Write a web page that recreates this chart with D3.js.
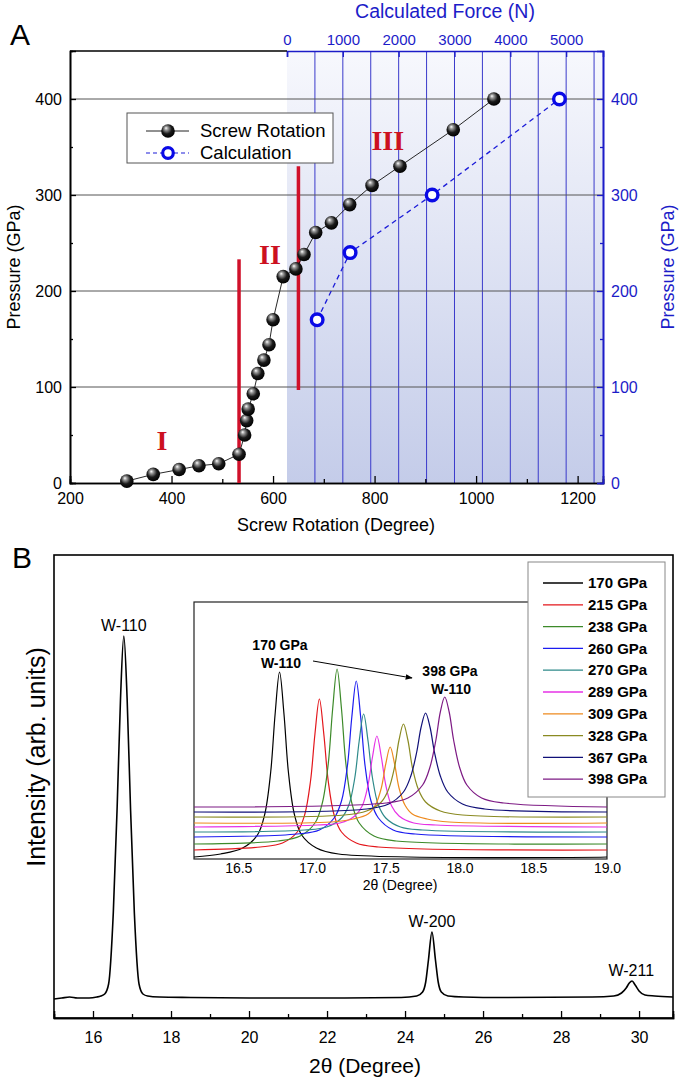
<!DOCTYPE html>
<html>
<meta charset="utf-8" />
<script src="https://d3js.org/d3.v7.min.js"></script>
<body style="margin:0;background:#fff">
<svg id="chart" width="680" height="1081"></svg>
<script>
// ---------- Panel A data ----------
var screwDeg = [312, 364, 415, 454, 493, 533, 544, 548, 551, 561, 570, 582, 592, 600, 620, 645, 661, 684, 715, 751, 795, 850, 955, 1035]
var screwGPa = [2, 9, 14, 18, 20, 30, 50, 65, 77, 93, 114, 128, 144, 170, 215, 223, 238, 261, 271, 290, 310, 330, 368, 400]
var calcForce = [540, 1130, 2600, 4880]
var calcGPa = [170, 240, 300, 400]
var regionDeg = [533, 650]
var regionFrom = [0, 97]
var regionTo = [233, 330]
var regionNames = ["I", "II", "III"]
var regionNameDeg = [381, 594, 826]
var regionNameGPa = [45, 238, 357]

// ---------- Panel B data ----------
var xrdTheta = [15.0, 15.2, 15.4, 15.6, 15.9, 16.1, 16.2, 16.3, 16.4, 16.52, 16.62, 16.705, 16.79,
  16.875, 16.96, 17.06, 17.18, 17.28, 17.4, 17.7, 18.5, 20, 22, 23.9, 24.3, 24.45, 24.53, 24.6,
  24.69, 24.78, 24.85, 24.93, 25.1, 25.5, 26.5, 28.8, 29.35, 29.55, 29.67, 29.75, 29.82, 29.9, 30.0, 30.15, 30.4, 30.87]
var xrdCounts = [19, 20, 21, 20, 20, 21, 22, 24, 34, 105, 212, 319, 382,
  319, 212, 105, 34, 24, 22, 21, 20.5, 20, 20, 20.5, 22, 26, 36, 58,
  86, 58, 36, 26, 22, 21, 20.5, 21, 22, 25, 30, 35, 37, 33, 27, 23, 22, 21]
var xrdPeakNames = ["W-110", "W-200", "W-211"]
var xrdPeakTheta = [16.79, 24.69, 29.8]
var xrdPeakTop = [382, 86, 37]

var insetPressures = ["170 GPa", "215 GPa", "238 GPa", "260 GPa", "270 GPa", "289 GPa", "309 GPa", "328 GPa", "367 GPa", "398 GPa"]
var insetColors = ["#000000", "#e3161b", "#3d8a2a", "#1c1cf0", "#2e8a8a", "#e632e6", "#ee8a1e", "#8a8a22", "#101078", "#7d1a84"]
var insetCenter = [16.78, 17.05, 17.17, 17.30, 17.35, 17.44, 17.53, 17.62, 17.77, 17.90]
// offsets from peak centre (degree) at which each pattern was read
var insetOffsets = [-0.4, -0.25, -0.15, -0.1, -0.06, -0.03, 0, 0.03, 0.06, 0.1, 0.15, 0.25, 0.4]
var insetCounts = [
  [5, 11, 24, 45, 87, 145, 187, 145, 87, 45, 24, 11, 5],
  [12, 16, 27, 44, 78, 125, 160, 125, 78, 44, 27, 16, 12],
  [18, 23, 36, 56, 95, 150, 190, 150, 95, 56, 36, 23, 18],
  [25, 29, 41, 58, 93, 142, 178, 142, 93, 58, 41, 29, 25],
  [29, 32, 41, 54, 81, 118, 145, 118, 81, 54, 41, 32, 29],
  [34, 36, 43, 53, 74, 102, 123, 102, 74, 53, 43, 36, 34],
  [37, 40, 45, 54, 71, 95, 112, 95, 71, 54, 45, 40, 37],
  [44, 48, 57, 70, 92, 119, 135, 119, 92, 70, 57, 48, 44],
  [50, 55, 67, 83, 107, 132, 146, 132, 107, 83, 67, 55, 50],
  [56, 61, 74, 92, 119, 147, 162, 147, 119, 92, 74, 61, 56]
]
var insetBase = [2, 9, 15, 22, 27, 32, 36, 42, 47, 52]

var svg = d3.select("#chart")
var defs = svg.append("defs")
var font = "Liberation Sans, Arial, sans-serif"
var intFmt = d3.format("d")

var ball = defs.append("radialGradient").attr("id", "ball")
  .attr("cx", "45%").attr("cy", "40%").attr("r", "60%").attr("fx", "35%").attr("fy", "28%")
ball.append("stop").attr("offset", "0%").attr("stop-color", "#ffffff")
ball.append("stop").attr("offset", "22%").attr("stop-color", "#9a9a9a")
ball.append("stop").attr("offset", "60%").attr("stop-color", "#1a1a1a")
ball.append("stop").attr("offset", "100%").attr("stop-color", "#000000")

var shade = defs.append("linearGradient").attr("id", "shade")
  .attr("x1", 0).attr("y1", 0).attr("x2", 0).attr("y2", 1)
shade.append("stop").attr("offset", "0%").attr("stop-color", "#f7f8fd")
shade.append("stop").attr("offset", "100%").attr("stop-color", "#c4cce9")

// ================= Panel A =================
var x = d3.scaleLinear().domain([200, 1250]).range([70, 603])
var y = d3.scaleLinear().domain([0, 450]).range([483, 51])
var xf = d3.scaleLinear().domain([0, 5660]).range([287, 603])
var blue = "#1c1cc8"

var gA = svg.append("g")
gA.append("rect").attr("x", xf(0)).attr("y", y(450))
  .attr("width", xf(5660) - xf(0)).attr("height", y(0) - y(450))
  .attr("fill", "url(#shade)")

// vertical force grid
gA.selectAll(".vg").data(d3.range(500, 5660, 500)).enter().append("line")
  .attr("x1", d => xf(d)).attr("x2", d => xf(d))
  .attr("y1", y(450)).attr("y2", y(0))
  .attr("stroke", "#3a3acb").attr("stroke-width", 1)

// horizontal grid
gA.selectAll(".hg").data([100, 200, 300, 400]).enter().append("line")
  .attr("x1", x(200)).attr("x2", x(1250))
  .attr("y1", d => y(d)).attr("y2", d => y(d))
  .attr("stroke", "#555").attr("stroke-width", 1)

// left axis
gA.append("g").attr("transform", "translate(70,0)")
  .call(d3.axisLeft(y).tickValues(d3.range(50, 450, 100)).tickSize(-3).tickFormat(""))
gA.append("g").attr("class", "lbl").attr("transform", "translate(70,0)")
  .call(d3.axisLeft(y).tickValues([0, 100, 200, 300, 400]).tickSize(-6).tickPadding(8).tickFormat(intFmt))
// bottom axis
gA.append("g").attr("transform", "translate(0,483)")
  .call(d3.axisBottom(x).tickValues(d3.range(300, 1250, 200)).tickSize(-4).tickFormat(""))
gA.append("g").attr("class", "lbl").attr("transform", "translate(0,483)")
  .call(d3.axisBottom(x).tickValues(d3.range(200, 1250, 200)).tickSize(-7).tickPadding(10).tickFormat(intFmt))
// right axis (blue)
gA.append("g").attr("class", "blueax").attr("transform", "translate(603,0)")
  .call(d3.axisRight(y).tickValues(d3.range(50, 450, 100)).tickSize(-3).tickFormat(""))
gA.append("g").attr("class", "blueax lbl").attr("transform", "translate(603,0)")
  .call(d3.axisRight(y).tickValues([0, 100, 200, 300, 400]).tickSize(-6).tickPadding(8).tickFormat(intFmt))
// top axis (force)
gA.append("g").attr("class", "blueax").attr("transform", "translate(0,51)")
  .call(d3.axisTop(xf).tickValues(d3.range(0, 5001, 1000)).tickSize(-6).tickPadding(6).tickFormat(intFmt))

gA.selectAll(".domain").attr("stroke-width", 1.6)
gA.selectAll(".tick line").attr("stroke-width", 1.3)
gA.selectAll("text").attr("font-family", font).attr("font-size", 15)
gA.selectAll(".lbl text").attr("font-size", 16)
gA.selectAll(".blueax .domain, .blueax line").attr("stroke", blue)
gA.selectAll(".blueax text").attr("fill", blue)
// top border left part (black)
gA.append("line").attr("x1", 70).attr("x2", xf(0)).attr("y1", 51).attr("y2", 51)
  .attr("stroke", "#000").attr("stroke-width", 1.6)

// region separators
gA.selectAll(".rl").data(regionDeg).enter().append("line")
  .attr("x1", d => x(d)).attr("x2", d => x(d))
  .attr("y1", (d, i) => y(regionFrom[i])).attr("y2", (d, i) => y(regionTo[i]))
  .attr("stroke", "#d0102a").attr("stroke-width", 3.5)
gA.selectAll(".rn").data(regionNames).enter().append("text")
  .attr("x", (d, i) => x(regionNameDeg[i])).attr("y", (d, i) => y(regionNameGPa[i]))
  .attr("text-anchor", "middle").attr("dy", "0.35em")
  .attr("font-family", "Liberation Serif, DejaVu Serif, serif").attr("font-weight", "bold")
  .attr("font-size", 28).attr("fill", "#cc1020").text(d => d)

// calculation series
gA.append("path")
  .attr("d", d3.line().x((d, i) => xf(calcForce[i])).y(d => y(d))(calcGPa))
  .attr("fill", "none").attr("stroke", "#1c1cd8").attr("stroke-width", 1.3).attr("stroke-dasharray", "5,4")
gA.selectAll(".cc").data(calcGPa).enter().append("circle")
  .attr("cx", (d, i) => xf(calcForce[i])).attr("cy", d => y(d)).attr("r", 5.8)
  .attr("fill", "#fff").attr("stroke", "#0a0ae6").attr("stroke-width", 3.4)

// screw rotation series
gA.append("path")
  .attr("d", d3.line().x((d, i) => x(screwDeg[i])).y(d => y(d))(screwGPa))
  .attr("fill", "none").attr("stroke", "#111").attr("stroke-width", 0.9)
gA.selectAll(".sc").data(screwGPa).enter().append("circle")
  .attr("cx", (d, i) => x(screwDeg[i])).attr("cy", d => y(d)).attr("r", 6.8)
  .attr("fill", "url(#ball)")

// legend A
var lg = gA.append("g").attr("transform", "translate(127,113)")
lg.append("rect").attr("width", 206).attr("height", 50).attr("fill", "#fff").attr("stroke", "#555").attr("stroke-width", 1)
lg.append("line").attr("x1", 19).attr("x2", 62).attr("y1", 18).attr("y2", 18).attr("stroke", "#222")
lg.append("circle").attr("cx", 41).attr("cy", 18).attr("r", 6.8).attr("fill", "url(#ball)")
lg.append("text").attr("x", 73).attr("y", 18).attr("dy", "0.35em").text("Screw Rotation")
lg.append("line").attr("x1", 19).attr("x2", 62).attr("y1", 40).attr("y2", 40)
  .attr("stroke", "#1c1cd8").attr("stroke-dasharray", "4,3").attr("stroke-width", 1.2)
lg.append("circle").attr("cx", 41).attr("cy", 40).attr("r", 5.3).attr("fill", "#fff").attr("stroke", "#0a0ae6").attr("stroke-width", 3.2)
lg.append("text").attr("x", 73).attr("y", 40).attr("dy", "0.35em").text("Calculation")
lg.selectAll("text").attr("font-family", font).attr("font-size", 18.5)

// titles A
svg.append("text").attr("x", 10).attr("y", 45).attr("font-family", font).attr("font-size", 30).text("A")
svg.append("text").attr("x", 445).attr("y", 18).attr("text-anchor", "middle")
  .attr("font-family", font).attr("font-size", 19.5).attr("fill", blue).text("Calculated Force (N)")
svg.append("text").attr("x", 336).attr("y", 531).attr("text-anchor", "middle")
  .attr("font-family", font).attr("font-size", 18).text("Screw Rotation (Degree)")
svg.append("text").attr("transform", "translate(20,267) rotate(-90)").attr("text-anchor", "middle")
  .attr("font-family", font).attr("font-size", 18).text("Pressure (GPa)")
svg.append("text").attr("transform", "translate(674,267) rotate(-90)").attr("text-anchor", "middle")
  .attr("font-family", font).attr("font-size", 18).attr("fill", blue).text("Pressure (GPa)")

// ================= Panel B =================
var bx = d3.scaleLinear().domain([15, 30.87]).range([54, 673])
var by = d3.scaleLinear().domain([0, 463]).range([1018, 555])
var gB = svg.append("g")
gB.append("rect").attr("x", 54).attr("y", 555).attr("width", 619).attr("height", 463)
  .attr("fill", "none").attr("stroke", "#000").attr("stroke-width", 1.6)
gB.append("g").attr("transform", "translate(0,1018)")
  .call(d3.axisBottom(bx).tickValues(d3.range(17, 31, 2)).tickSize(-4).tickFormat(""))
gB.append("g").attr("transform", "translate(0,1018)")
  .call(d3.axisBottom(bx).tickValues(d3.range(16, 31, 2)).tickSize(-7).tickPadding(14))
gB.selectAll(".domain").attr("stroke-width", 1.6)
gB.selectAll(".tick line").attr("stroke-width", 1.3)
gB.selectAll("text").attr("font-family", font).attr("font-size", 16)

gB.append("path")
  .attr("d", d3.line().x((d, i) => bx(xrdTheta[i])).y(d => by(d)).curve(d3.curveMonotoneX)(xrdCounts))
  .attr("fill", "none").attr("stroke", "#000").attr("stroke-width", 1.6)
gB.selectAll(".pn").data(xrdPeakNames).enter().append("text")
  .attr("x", (d, i) => bx(xrdPeakTheta[i])).attr("y", (d, i) => by(xrdPeakTop[i]) - 5)
  .attr("text-anchor", "middle").attr("font-family", font).attr("font-size", 16).text(d => d)

svg.append("text").attr("x", 12).attr("y", 568).attr("font-family", font).attr("font-size", 30).text("B")
svg.append("text").attr("x", 365).attr("y", 1073).attr("text-anchor", "middle")
  .attr("font-family", font).attr("font-size", 21).text("2θ (Degree)")
svg.append("text").attr("transform", "translate(45,757) rotate(-90)").attr("text-anchor", "middle")
  .attr("font-family", font).attr("font-size", 25).text("Intensity (arb. units)")

// inset
var ix = d3.scaleLinear().domain([16.2, 19.0]).range([194, 607])
var iy = d3.scaleLinear().domain([0, 257]).range([859, 602])
var gI = svg.append("g")
gI.append("rect").attr("x", 194).attr("y", 602).attr("width", 413).attr("height", 257)
  .attr("fill", "#fff").attr("stroke", "#222").attr("stroke-width", 1.2)
gI.append("clipPath").attr("id", "iclip").append("rect")
  .attr("x", 194).attr("y", 602).attr("width", 413).attr("height", 257)
var curves = gI.append("g").attr("clip-path", "url(#iclip)")
insetCounts.forEach(function (row, k) {
  var pts = [[16.2, insetBase[k]]]
  row.forEach(function (v, j) { pts.push([insetCenter[k] + insetOffsets[j], v]) })
  pts.push([19.0, insetBase[k]])
  pts = pts.filter(p => p[0] >= 16.2 && p[0] <= 19.0).sort((a, b) => a[0] - b[0])
  curves.append("path")
    .attr("d", d3.line().x(p => ix(p[0])).y(p => iy(p[1])).curve(d3.curveCatmullRom)(pts))
    .attr("fill", "none").attr("stroke", insetColors[k]).attr("stroke-width", 1.2)
})
var iax = gI.append("g").attr("transform", "translate(0,859)")
  .call(d3.axisBottom(ix).tickValues(d3.range(16.5, 19.01, 0.5)).tickFormat(d3.format(".1f")).tickSize(0).tickPadding(4))
iax.select(".domain").remove()
iax.selectAll("text").attr("font-family", font).attr("font-size", 14)
gI.append("text").attr("x", 400).attr("y", 890).attr("text-anchor", "middle")
  .attr("font-family", font).attr("font-size", 14).text("2θ (Degree)")

// inset annotations
defs.append("marker").attr("id", "arr").attr("viewBox", "0 0 10 10").attr("refX", 9).attr("refY", 5)
  .attr("markerWidth", 7).attr("markerHeight", 7).attr("orient", "auto")
  .append("path").attr("d", "M0,1 L10,5 L0,9 z").attr("fill", "#000")
var ann = [["170 GPa", 280, 650], ["W-110", 281, 668], ["398 GPa", 450, 676], ["W-110", 451, 694]]
gI.selectAll(".an").data(ann).enter().append("text")
  .attr("x", d => d[1]).attr("y", d => d[2]).attr("text-anchor", "middle")
  .attr("font-family", font).attr("font-weight", "bold").attr("font-size", 14).text(d => d[0])
gI.append("line").attr("x1", 313).attr("y1", 661).attr("x2", 412).attr("y2", 678)
  .attr("stroke", "#000").attr("stroke-width", 1).attr("marker-end", "url(#arr)")

// legend B
var lb = svg.append("g").attr("transform", "translate(528,562)")
lb.append("rect").attr("width", 137).attr("height", 235).attr("fill", "#fff").attr("stroke", "#888").attr("stroke-width", 1)
insetPressures.forEach(function (p, k) {
  var yy = 21 + k * 21.8
  lb.append("line").attr("x1", 15).attr("x2", 55).attr("y1", yy).attr("y2", yy)
    .attr("stroke", insetColors[k]).attr("stroke-width", 1.3)
  lb.append("text").attr("x", 60).attr("y", yy).attr("dy", "0.35em")
    .attr("font-family", font).attr("font-weight", "bold").attr("font-size", 15).text(p)
})
</script>
</body>
</html>
